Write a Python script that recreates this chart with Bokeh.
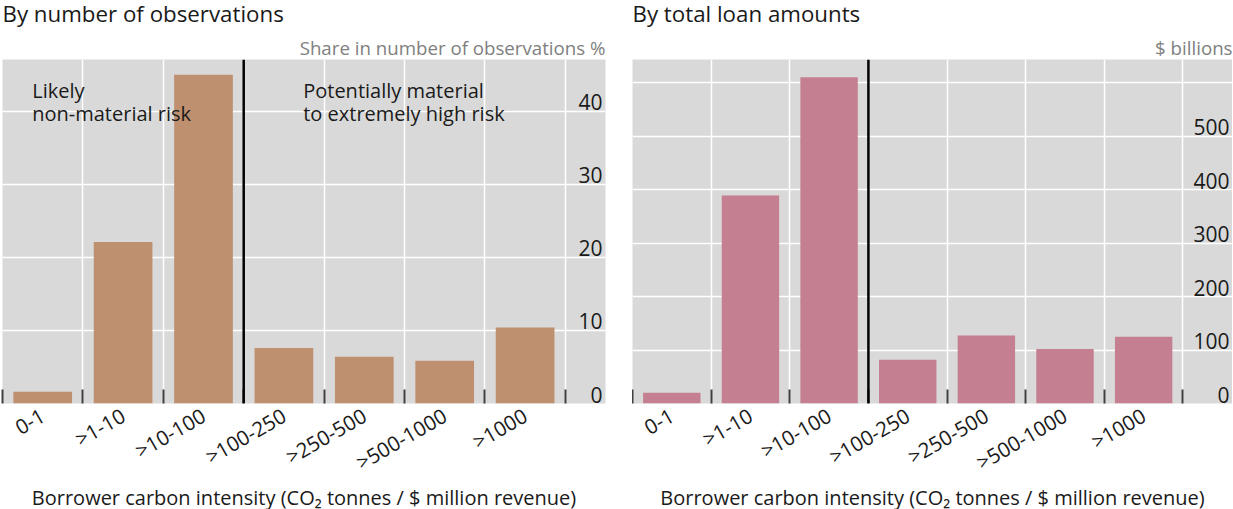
import math
from bokeh.plotting import figure
from bokeh.models import FixedTicker, Title, Span, Grid
from bokeh.layouts import row
from bokeh.embed import file_html
from bokeh.resources import INLINE
from bokeh.core.properties import value

# ---------------- data ----------------
categories = ["0-1", ">1-10", ">10-100", ">100-250", ">250-500", ">500-1000", ">1000"]
share_of_observations_pct = [1.6, 22.1, 45.0, 7.6, 6.4, 5.85, 10.4]
loan_amounts_bn = [20, 389, 610, 82, 127, 102, 125]

obs_tick_values = [0, 10, 20, 30, 40]
obs_tick_labels = ["0", "10", "20", "30", "40"]
obs_grid_values = [0, 10, 20, 30, 40]

loan_tick_values = [0, 100, 200, 300, 400, 500]
loan_tick_labels = ["0", "100", "200", "300", "400", "500"]
loan_grid_values = [0, 100, 200, 300, 400, 500, 600]

x_axis_title = "Borrower carbon intensity (CO\u2082 tonnes / $ million revenue)"

FONT = "Open Sans"
TEXT = "#1a1a1a"


def make_panel(title, unit, values, color, tick_values, tick_labels, grid_values,
               y_max, x_max, frame_width, border_left, border_right, notes, label_dx):
    n = len(categories)
    centers = list(range(n))
    bounds = [i - 0.5 for i in range(n + 1)]

    p = figure(frame_width=frame_width, frame_height=344,
               x_range=(-0.5, x_max), y_range=(0, y_max),
               y_axis_location=None, output_backend="svg", toolbar_location=None,
               min_border_left=border_left, min_border_right=border_right,
               min_border_top=66, min_border_bottom=0,
               background_fill_color="#d9d9d9", border_fill_color="white",
               outline_line_color=None)

    # grids
    p.xgrid.ticker = FixedTicker(ticks=bounds[1:])
    p.xgrid.grid_line_color = "white"
    p.xgrid.grid_line_width = 1.5
    if len(p.ygrid) == 0:
        p.add_layout(Grid(dimension=1, ticker=FixedTicker(ticks=grid_values)))
    p.ygrid.ticker = FixedTicker(ticks=grid_values)
    p.ygrid.grid_line_color = "white"
    p.ygrid.grid_line_width = 1.5

    # bars
    p.vbar(x=centers, top=values, bottom=0, width=0.73,
           fill_color=color, line_color=None)

    # divider
    p.add_layout(Span(location=bounds[3], dimension="height",
                      line_color="black", line_width=2.5))

    # y tick labels inside plot (right side)
    p.text(x=[x_max] * len(tick_values), y=tick_values, text=tick_labels,
           text_font=value(FONT), text_font_size="21px", text_color=TEXT,
           text_align="right", text_baseline="bottom",
           x_offset=label_dx, y_offset=-1)

    # annotations
    for nx, ny, ntext in notes:
        p.text(x=[nx], y=[ny], text=[ntext], text_font=value(FONT),
               text_font_size="20px", text_color=TEXT, text_align="left",
               text_baseline="top", text_line_height=0.86)

    # x axis
    ax = p.xaxis[0]
    ax.ticker = FixedTicker(ticks=centers, minor_ticks=bounds)
    ax.major_label_overrides = {c: cat for c, cat in zip(centers, categories)}
    ax.major_label_orientation = math.pi / 6
    ax.major_tick_line_color = None
    ax.minor_tick_in = 14
    ax.minor_tick_out = 0
    ax.minor_tick_line_color = "#404040"
    ax.minor_tick_line_width = 2
    ax.axis_line_color = None
    ax.major_label_text_font = FONT
    ax.major_label_text_font_size = "20.5px"
    ax.major_label_text_color = TEXT
    ax.major_label_standoff = 4
    ax.axis_label = x_axis_title
    ax.axis_label_text_font = FONT
    ax.axis_label_text_font_size = "20px"
    ax.axis_label_text_font_style = "normal"
    ax.axis_label_text_color = TEXT
    ax.axis_label_standoff = -7

    # titles
    p.add_layout(Title(text=unit, align="right", text_font=FONT, text_font_size="18.7px",
                       text_font_style="normal", text_color="#808080", standoff=0), "above")
    p.add_layout(Title(text=title, align="left", text_font=FONT, text_font_size="22.3px",
                       text_font_style="normal", text_color=TEXT, standoff=7), "above")
    return p


p1 = make_panel("By number of observations", "Share in number of observations %",
                share_of_observations_pct, "#be906f", obs_tick_values, obs_tick_labels,
                obs_grid_values, 47.1, 7.0, 603, 8, 27,
                [(-0.13, 44.7, "Likely\nnon-material risk"),
                 (3.24, 44.7, "Potentially material\nto extremely high risk")], -3)

p2 = make_panel("By total loan amounts", "$ billions",
                loan_amounts_bn, "#c47f90", loan_tick_values, loan_tick_labels,
                loan_grid_values, 643, 7.13, 600, 0, 0, [], -3)

layout = row(p1, p2, margin=(-8, 0, -40, -6))

open("out.html", "w").write(file_html(layout, INLINE))
